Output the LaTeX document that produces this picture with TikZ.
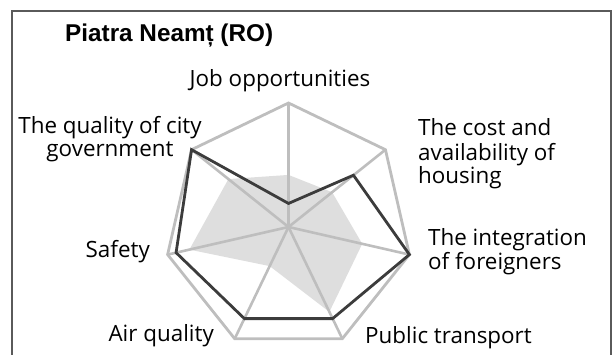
\documentclass[tikz,border=0pt]{standalone}
\usepackage{fontspec}
\setmainfont{Open Sans}
\newfontfamily\titlefont{Liberation Sans}
\definecolor{spokegray}{HTML}{BEBEBE}
\definecolor{fillgray}{HTML}{DEDEDE}
\definecolor{darkline}{HTML}{3C3C3C}
\definecolor{framegray}{HTML}{5A5A5A}
\tikzset{
  framestyle/.style={draw=framegray, line width=1.2pt},
  spoke/.style={draw=spokegray, line width=2.6pt},
  outerring/.style={draw=spokegray, line width=2.8pt, line join=miter},
  avgarea/.style={fill=fillgray, draw=none},
  cityline/.style={draw=darkline, line width=2.8pt, line join=miter},
  lbl/.style={inner sep=0pt, font=\fontsize{22.4}{23}\selectfont},
  titlestyle/.style={inner sep=0pt, font=\titlefont\bfseries\fontsize{24.3}{26}\selectfont}
}
\begin{document}
\begin{tikzpicture}[x=1pt,y=-1pt]
\useasboundingbox (0,0) rectangle (615,355);
\coordinate (f1) at (12,355);
\coordinate (f2) at (12,11);
\coordinate (f3) at (611,11);
\coordinate (f4) at (611,355);
\draw[framestyle] (f1) -- (f2) -- (f3) -- (f4);

\def\cx{288.5}
\def\cy{227}
\def\R{124}
\coordinate (C) at (\cx,\cy);
\foreach \i in {0,...,6} {
  \coordinate (O\i) at ({\cx+\R*cos(90-\i*360/7)}, {\cy-\R*sin(90-\i*360/7)});
}
% grey average area
\foreach \i/\v in {0/0.42,1/0.45,2/0.61,3/0.76,4/0.35,5/0.82,6/0.62} {
  \coordinate (G\i) at ({\cx+\v*\R*cos(90-\i*360/7)}, {\cy-\v*\R*sin(90-\i*360/7)});
}
% city values
\foreach \i/\v in {0/0.19,1/0.67,2/1.0,3/0.82,4/0.82,5/0.93,6/1.0} {
  \coordinate (D\i) at ({\cx+\v*\R*cos(90-\i*360/7)}, {\cy-\v*\R*sin(90-\i*360/7)});
}
\path[avgarea] (G0) -- (G1) -- (G2) -- (G3) -- (G4) -- (G5) -- (G6) -- cycle;
\foreach \i in {0,...,6} { \draw[spoke] (C) -- (O\i); }
\draw[outerring] (O0) -- (O1) -- (O2) -- (O3) -- (O4) -- (O5) -- (O6) -- cycle;
\draw[cityline] (D0) -- (D1) -- (D2) -- (D3) -- (D4) -- (D5) -- (D6) -- cycle;

\node[titlestyle, anchor=base west] (title) at (65,41.7) {Piatra Neamț (RO)};
\node[lbl, anchor=base] (job) at (280,86.5) {Job opportunities};
\node[lbl, anchor=base west] (housing) at (418,136) {\begin{tabular}[t]{@{}l@{}}The cost and\\availability of\\housing\end{tabular}};
\node[lbl, anchor=base west] (integ) at (428,245) {\begin{tabular}[t]{@{}l@{}}The integration\\of foreigners\end{tabular}};
\node[lbl, anchor=base west] (transport) at (365,343) {Public transport};
\node[lbl, anchor=base east] (air) at (214,341) {Air quality};
\node[lbl, anchor=base east] (safety) at (150,258) {Safety};
\node[lbl, anchor=base] (gov) at (110,133.3) {\begin{tabular}[t]{@{}c@{}}The quality of city\\government\end{tabular}};
\end{tikzpicture}
\end{document}
